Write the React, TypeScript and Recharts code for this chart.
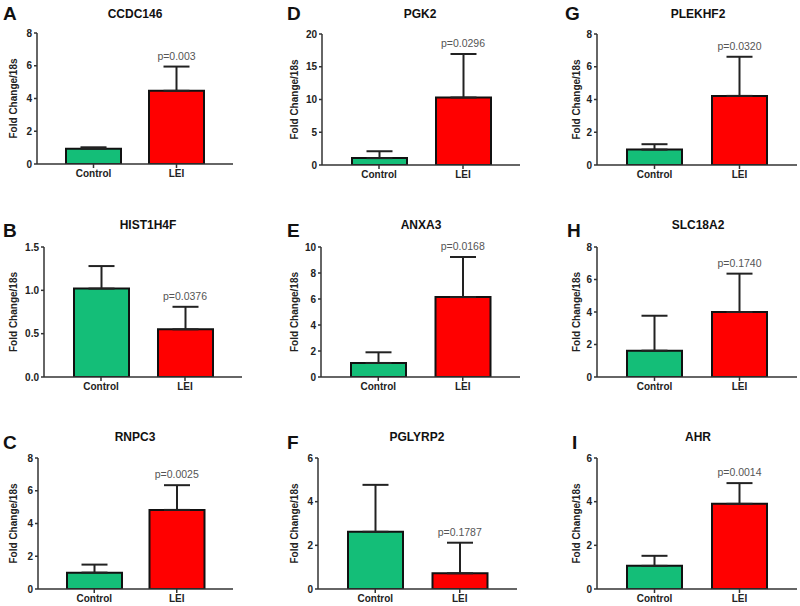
import React from 'react';
import { BarChart, Bar, XAxis, YAxis, ErrorBar, Cell, ReferenceDot, Label } from 'recharts';

const categories = ['Control', 'LEI'];
const panelLetters = ['A', 'B', 'C', 'D', 'E', 'F', 'G', 'H', 'I'];
const genes = ['CCDC146', 'HIST1H4F', 'RNPC3', 'PGK2', 'ANXA3', 'PGLYRP2', 'PLEKHF2', 'SLC18A2', 'AHR'];
const controlMeans = [0.93, 1.02, 1.0, 1.05, 1.08, 2.62, 0.94, 1.62, 1.06];
const controlErrors = [0.09, 0.26, 0.49, 1.05, 0.82, 2.15, 0.33, 2.15, 0.46];
const leiMeans = [4.47, 0.55, 4.83, 10.3, 6.15, 0.72, 4.22, 4.0, 3.9];
const leiErrors = [1.48, 0.26, 1.51, 6.65, 3.08, 1.4, 2.39, 2.36, 0.95];
const pValues = ['p=0.003', 'p=0.0376', 'p=0.0025', 'p=0.0296', 'p=0.0168', 'p=0.1787', 'p=0.0320', 'p=0.1740', 'p=0.0014'];
const yTicks = [
  [0, 2, 4, 6, 8],
  [0, 0.5, 1, 1.5],
  [0, 2, 4, 6, 8],
  [0, 5, 10, 15, 20],
  [0, 2, 4, 6, 8, 10],
  [0, 2, 4, 6],
  [0, 2, 4, 6, 8],
  [0, 2, 4, 6, 8],
  [0, 2, 4, 6],
];
const tickDecimals = [0, 1, 0, 0, 0, 0, 0, 0, 0];
const yAxisTitle = 'Fold Change/18s';

// layout (pixel positions) for each panel
const layout = [
  { axisX: 37, top: 33, bottom: 164, right: 233, labelX: 13, titleX: 135, titleY: 14, letterX: 3, letterY: 14 },
  { axisX: 44, top: 247, bottom: 377, right: 242, labelX: 13, titleX: 148, titleY: 225, letterX: 3, letterY: 231 },
  { axisX: 38, top: 458, bottom: 589, right: 233, labelX: 13, titleX: 135, titleY: 437, letterX: 3, letterY: 443 },
  { axisX: 322, top: 34, bottom: 165, right: 520, labelX: 294, titleX: 420, titleY: 14, letterX: 287, letterY: 14 },
  { axisX: 321, top: 247, bottom: 377, right: 520, labelX: 294, titleX: 421, titleY: 225, letterX: 287, letterY: 231 },
  { axisX: 318, top: 458, bottom: 589, right: 517, labelX: 294, titleX: 417, titleY: 437, letterX: 287, letterY: 443 },
  { axisX: 597, top: 34, bottom: 165, right: 797, labelX: 576, titleX: 698, titleY: 14, letterX: 565, letterY: 14 },
  { axisX: 597, top: 247, bottom: 377, right: 797, labelX: 576, titleX: 698, titleY: 225, letterX: 567, letterY: 231 },
  { axisX: 597, top: 458, bottom: 589, right: 797, labelX: 576, titleX: 698, titleY: 437, letterX: 572, letterY: 443 },
];

const GREEN = '#14BE78';
const RED = '#FF0000';
const AXIS = '#333333';
const FONT = '"Liberation Sans", Arial, Helvetica, sans-serif';

function Panel({ i }: { i: number }) {
  const L = layout[i];
  const data = categories.map((name, k) => ({
    name,
    mean: k === 0 ? controlMeans[i] : leiMeans[i],
    err: [0, k === 0 ? controlErrors[i] : leiErrors[i]],
  }));
  const ticks = yTicks[i];
  const yMax = ticks[ticks.length - 1];
  const yAxisW = 40;
  const xAxisH = 24;
  const mt = 10;
  const mb = 0;
  const mr = 3;
  const width = yAxisW + (L.right - L.axisX) + mr;
  const height = mt + (L.bottom - L.top) + xAxisH + mb;
  const tickStyle = { fontSize: 10, fontWeight: 'bold', fill: '#222', fontFamily: FONT };
  return (
    <>
      <div
        style={{
          position: 'absolute',
          left: L.letterX,
          top: L.letterY - 11,
          fontSize: 19,
          fontWeight: 'bold',
          lineHeight: '22px',
          fontFamily: FONT,
          color: '#111',
        }}
      >
        {panelLetters[i]}
      </div>
      <div
        style={{
          position: 'absolute',
          left: L.titleX - 60,
          width: 120,
          textAlign: 'center',
          top: L.titleY - 7,
          fontSize: 12,
          fontWeight: 'bold',
          lineHeight: '14px',
          fontFamily: FONT,
          color: '#111',
        }}
      >
        {genes[i]}
      </div>
      <div style={{ position: 'absolute', left: L.axisX - yAxisW, top: L.top - mt }}>
        <BarChart width={width} height={height} data={data} margin={{ top: mt, right: mr, bottom: mb, left: 0 }}>
          <XAxis
            dataKey="name"
            height={xAxisH}
            padding={{ left: 15, right: 15 }}
            axisLine={{ stroke: AXIS, strokeWidth: 1.5 }}
            tickLine={{ stroke: AXIS, strokeWidth: 1.5 }}
            tickSize={4}
            tick={tickStyle}
            interval={0}
          />
          <YAxis
            width={yAxisW}
            domain={[0, yMax]}
            ticks={ticks}
            interval={0}
            allowDataOverflow
            axisLine={{ stroke: AXIS, strokeWidth: 1.5 }}
            tickLine={{ stroke: AXIS, strokeWidth: 1.5 }}
            tickSize={3}
            tick={tickStyle}
            tickFormatter={(v: number) => v.toFixed(tickDecimals[i])}
          >
            <Label
              value={yAxisTitle}
              angle={-90}
              position="center"
              dx={L.labelX - L.axisX + yAxisW / 2}
              style={{ fontSize: 10, fontWeight: 'bold', fill: '#222', fontFamily: FONT, textAnchor: 'middle' }}
            />
          </YAxis>
          <Bar dataKey="mean" barSize={55} stroke="#111" strokeWidth={2} isAnimationActive={false}>
            {data.map((d, k) => (
              <Cell key={d.name} fill={k === 0 ? GREEN : RED} />
            ))}
            <ErrorBar dataKey="err" width={13} stroke="#222" strokeWidth={2} direction="y" isAnimationActive={false} />
          </Bar>
          <ReferenceDot
            x="LEI"
            y={leiMeans[i] + leiErrors[i]}
            r={1}
            fill="none"
            stroke="none"
            label={{ value: pValues[i], position: 'top', offset: 6, fontSize: 10.5, fill: '#555555', fontFamily: FONT }}
          />
        </BarChart>
      </div>
    </>
  );
}

export default function App() {
  return (
    <div
      style={{
        position: 'absolute',
        left: 0,
        top: 0,
        width: 800,
        height: 606,
        background: '#fff',
        overflow: 'hidden',
        fontFamily: FONT,
      }}
    >
      {genes.map((g, i) => (
        <Panel key={g} i={i} />
      ))}
    </div>
  );
}
